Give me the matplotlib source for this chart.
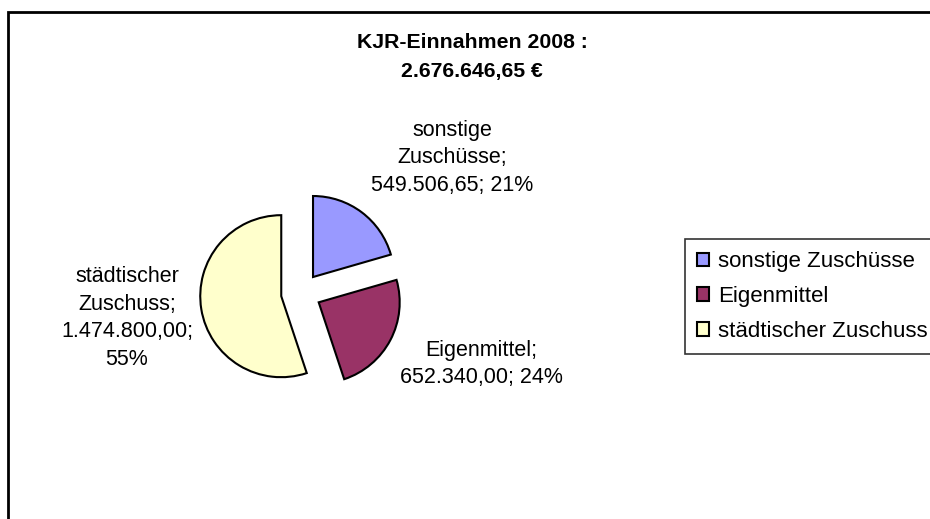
import matplotlib.pyplot as plt
from matplotlib.patches import Rectangle

## data
names = ['sonstige Zuschüsse', 'Eigenmittel', 'städtischer Zuschuss']
label_names = ['sonstige\nZuschüsse;', 'Eigenmittel;', 'städtischer\nZuschuss;']
amounts = [549506.65, 652340.00, 1474800.00]
amount_texts = ['549.506,65', '652.340,00', '1.474.800,00']
percent_texts = ['21%', '24%', '55%']
colors = ['#9999FF', '#993366', '#FFFFCC']

plt.rcParams['font.family'] = ['Liberation Sans', 'DejaVu Sans']

W, H = 930, 519
fig = plt.figure(figsize=(W / 100, H / 100), dpi=100)
ax = fig.add_axes([0, 0, 1, 1])

# pie in pixel-like coords (y up), explode is in same units
r = 81
wedges, _ = ax.pie(amounts, colors=colors, center=(301, H - 293), radius=r,
                   explode=[20] * 3, startangle=90, counterclock=False,
                   wedgeprops=dict(edgecolor='black', linewidth=1.5))
ax.set_xlim(0, W)
ax.set_ylim(0, H)
ax.set_aspect('equal')
ax.axis('off')

# data labels
lab_pos = [(452, H - 158), (481, H - 364), (127, H - 318)]
full_labels = [label_names[0] + '\n' + amount_texts[0] + '; ' + percent_texts[0],
               label_names[1] + '\n' + amount_texts[1] + '; ' + percent_texts[1],
               label_names[2] + '\n' + amount_texts[2] + ';\n' + percent_texts[2]]
for (x, y), t in zip(lab_pos, full_labels):
    ax.text(x, y, t, ha='center', va='center', fontsize=15.5, linespacing=1.4)

# title
fig.text(472 / W, 1 - 43 / H, 'KJR-Einnahmen 2008 :', ha='center', va='center',
         fontsize=15.3, fontweight='bold')
fig.text(472 / W, 1 - 72 / H, '2.676.646,65 €', ha='center', va='center',
         fontsize=15.3, fontweight='bold')

# legend
leg = fig.legend(wedges, names, loc='upper left', bbox_to_anchor=(685 / W, 1 - 239 / H),
                 fontsize=16, frameon=True, fancybox=False, edgecolor='black',
                 handlelength=0.55, handleheight=0.55, handletextpad=0.4,
                 labelspacing=0.62, borderpad=0.55, borderaxespad=0)
leg.get_frame().set_linewidth(1.2)

# chart border
fig.patches.append(Rectangle((8 / W, -0.5), 2, 1.5 - 12 / H, transform=fig.transFigure,
                             fill=False, edgecolor='black', linewidth=2))

fig.savefig('out.png', dpi=100)
